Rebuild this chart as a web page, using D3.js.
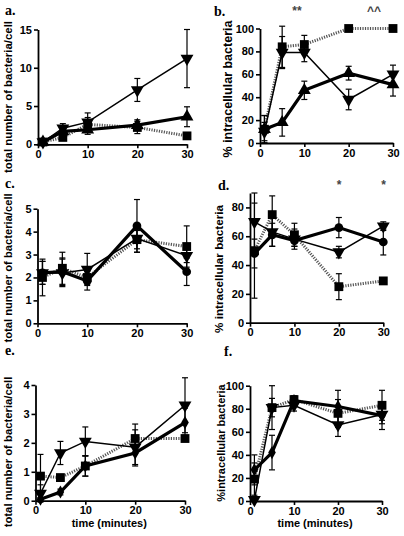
<!DOCTYPE html>
<html><head><meta charset="utf-8">
<script src="https://cdn.jsdelivr.net/npm/d3@7"></script>
<style>
body{margin:0;background:#fff;}
svg{display:block;font-family:"Liberation Sans",Arial,sans-serif;}
.tick text{font-weight:bold;font-size:11px;fill:#000;}
</style></head>
<body><svg id="c" width="404" height="536"></svg>
<script>
// ---- data ----
const time = [1, 5, 10, 20, 30];
const xTicks = [0, 10, 20, 30];

// panel a (total number of bacteria/cell)
const aDownTri = [0.3, 2.1, 2.9, 7.1, 11.2];
const aDownTriErr = [0.2, 0.6, 1.2, 1.5, 3.8];
const aUpTri = [0.3, 1.7, 1.9, 2.5, 3.6];
const aUpTriErr = [0.2, 0.5, 0.6, 0.7, 1.3];
const aSquare = [0.3, 0.9, 2.6, 2.2, 1.1];
const aSquareErr = [0.1, 0.2, 0.9, 0.8, 0.2];
const aTicks = [0, 5, 10, 15];

// panel b (% intracellular)
const bDownTri = [10, 79, 79, 38, 60];
const bDownTriErr = [8, 14, 8, 9, 8];
const bUpTri = [12, 18, 46, 61, 51];
const bUpTriErr = [12, 12, 8, 6, 10];
const bSquare = [12, 84, 86, 100, 100];
const bSquareErr = [12, 18, 8, 0, 0];
const bTicks = [0, 20, 40, 60, 80, 100];

// panel c
const cCircle = [2.2, 2.25, 1.85, 4.25, 2.25];
const cCircleErr = [0.5, 0.6, 0.4, 1.15, 0.6];
const cDownTri = [2.2, 2.2, 2.35, 3.7, 2.95];
const cDownTriErr = [0.5, 0.6, 0.7, 0.6, 0.3];
const cSquare = [2.0, 2.4, 2.0, 3.65, 3.35];
const cSquareErr = [0.8, 0.7, 0.3, 0.4, 0.9];
const cTicks = [0, 1, 2, 3, 4, 5];

// panel d
const dCircle = [48, 61, 57, 66, 56];
const dCircleErr = [10, 8, 4, 7, 9];
const dDownTri = [70, 63, 58, 49, 67];
const dDownTriErr = [20, 10, 7, 4, 3];
const dSquare = [50, 75, 61, 25, 29];
const dSquareErr = [33, 13, 8, 9, 2];
const dTicks = [0, 20, 40, 60, 80];

// panel e
const eDiamond = [0.05, 0.3, 1.2, 1.65, 2.7];
const eDiamondErr = [0.05, 0.1, 0.35, 0.45, 0.5];
const eDownTri = [0.25, 1.65, 2.05, 1.85, 3.3];
const eDownTriErr = [0.3, 0.4, 0.5, 0.6, 0.95];
const eSquare = [0.85, 0.8, 1.2, 2.15, 2.15];
const eSquareErr = [0.75, 0.1, 0.35, 0.5, 0.1];
const eTicks = [0, 1, 2, 3, 4];

// panel f
const fDiamond = [27, 42, 87, 82, 74];
const fDiamondErr = [13, 15, 4, 14, 12];
const fDownTri = [1, 81, 83, 66, 75];
const fDownTriErr = [1, 8, 5, 10, 8];
const fSquare = [19, 81, 88, 76, 83];
const fSquareErr = [14, 19, 3, 12, 13];
const fTicks = [0, 20, 40, 60, 80, 100];

const titleTotal = "total number of bacteria/cell";
const titlePct = "% intracellular bacteria";
const titlePct2 = "%intracellular bacteria";
const xTitle = "time (minutes)";

// ---- layout ----
const panels = [
  {label:"a.", lx:5, ly:15, x0:38, x1:187, y0:144.3, yT:29.5, ymax:15, ticks:aTicks,
   title:titleTotal, tx:12, ty:97, tfs:11.4,
   series:[{v:aSquare,e:aSquareErr,sym:"square",line:"dot"},{v:aUpTri,e:aUpTriErr,sym:"up",line:"thick"},{v:aDownTri,e:aDownTriErr,sym:"down",line:"thin"}], notes:[]},
  {label:"b.", lx:214, ly:16, x0:260, x1:393, y0:143, yT:28.5, ymax:100, ticks:bTicks,
   title:titlePct, tx:232, ty:89, tfs:12.5,
   series:[{v:bSquare,e:bSquareErr,sym:"square",line:"dot"},{v:bUpTri,e:bUpTriErr,sym:"up",line:"thick"},{v:bDownTri,e:bDownTriErr,sym:"down",line:"thin"}],
   notes:[{t:"**",x:297,y:15},{t:"^^",x:374,y:15}]},
  {label:"c.", lx:5, ly:188, x0:37.5, x1:186.7, y0:323.3, yT:208.7, ymax:5, ticks:cTicks,
   title:titleTotal, tx:12, ty:268, tfs:11.2,
   series:[{v:cSquare,e:cSquareErr,sym:"square",line:"dot"},{v:cCircle,e:cCircleErr,sym:"circle",line:"thick"},{v:cDownTri,e:cDownTriErr,sym:"down",line:"thin"}], notes:[]},
  {label:"d.", lx:218, ly:190, x0:250, x1:383.3, y0:322.7, yT:193, ymax:90, ticks:dTicks,
   title:titlePct, tx:223, ty:269, tfs:11.7,
   series:[{v:dSquare,e:dSquareErr,sym:"square",line:"dot"},{v:dCircle,e:dCircleErr,sym:"circle",line:"thick"},{v:dDownTri,e:dDownTriErr,sym:"down",line:"thin"}],
   notes:[{t:"*",x:339,y:189},{t:"*",x:383.5,y:189}]},
  {label:"e.", lx:5, ly:355, x0:35.5, x1:185, y0:500.7, yT:385, ymax:4, ticks:eTicks,
   title:titleTotal, tx:12, ty:452, tfs:11.3,
   series:[{v:eSquare,e:eSquareErr,sym:"square",line:"dot"},{v:eDiamond,e:eDiamondErr,sym:"diamond",line:"thick"},{v:eDownTri,e:eDownTriErr,sym:"down",line:"thin"}], notes:[], xt:true},
  {label:"f.", lx:224, ly:356, x0:250, x1:382, y0:501, yT:385.7, ymax:100, ticks:fTicks,
   title:titlePct2, tx:225, ty:443, tfs:11,
   series:[{v:fSquare,e:fSquareErr,sym:"square",line:"dot"},{v:fDiamond,e:fDiamondErr,sym:"diamond",line:"thick"},{v:fDownTri,e:fDownTriErr,sym:"down",line:"thin"}], notes:[], xt:true}
];

const svg = d3.select("#c");
const symType = {square:d3.symbolSquare, up:d3.symbolTriangle, down:d3.symbolTriangle, circle:d3.symbolCircle, diamond:d3.symbolDiamond};
const symSize = {square:78, up:72, down:72, circle:60, diamond:50};
const lineStyle = {
  thick:{w:3.2, c:"#000", d:null},
  thin:{w:1.5, c:"#000", d:null},
  dot:{w:3, c:"#555", d:"1.2,1.3"}
};
const fmt = d3.format("d");

panels.forEach(p => {
  const g = svg.append("g");
  const x = d3.scaleLinear().domain([0, 30]).range([p.x0, p.x1]);
  const y = d3.scaleLinear().domain([0, p.ymax]).range([p.y0, p.yT]);

  const xa = g.append("g").attr("transform", `translate(0,${p.y0})`)
    .call(d3.axisBottom(x).tickValues(xTicks).tickFormat(fmt).tickSize(4).tickPadding(2).tickSizeOuter(0));
  const ya = g.append("g").attr("transform", `translate(${p.x0},0)`)
    .call(d3.axisLeft(y).tickValues(p.ticks).tickFormat(fmt).tickSize(4).tickPadding(2).tickSizeOuter(0));
  [xa, ya].forEach(a => {
    a.select(".domain").attr("stroke", "#000").attr("stroke-width", 1.8);
    a.selectAll(".tick line").attr("stroke", "#000").attr("stroke-width", 1.6);
  });

  // panel label
  g.append("text").attr("x", p.lx).attr("y", p.ly).text(p.label)
    .attr("font-family", "'Liberation Serif','Times New Roman',serif")
    .attr("font-weight", "bold").attr("font-size", 14);

  // y title
  g.append("text").attr("transform", `translate(${p.tx},${p.ty}) rotate(-90)`)
    .attr("text-anchor", "middle").attr("font-weight", "bold")
    .attr("font-size", p.tfs).text(p.title);

  if (p.xt) {
    g.append("text").attr("x", (p.x0 + p.x1) / 2 - 1).attr("y", p.y0 + 26)
      .attr("text-anchor", "middle").attr("font-weight", "bold").attr("font-size", 11)
      .text(xTitle);
  }

  p.notes.forEach(n => {
    g.append("text").attr("x", n.x).attr("y", n.y).attr("text-anchor", "middle")
      .attr("font-size", 12).attr("font-weight", "bold").attr("fill", "#444").text(n.t);
  });

  // lines
  p.series.forEach(s => {
    const st = lineStyle[s.line];
    const pts = time.map((t, i) => [t, s.v[i]]);
    g.append("path").datum(pts)
      .attr("d", d3.line().x(d => x(d[0])).y(d => y(d[1])))
      .attr("fill", "none").attr("stroke", st.c).attr("stroke-width", st.w)
      .attr("stroke-dasharray", st.d);
  });
  // error bars
  p.series.forEach(s => {
    time.forEach((t, i) => {
      if (!s.e[i]) return;
      const cx = x(t), ylo = y(s.v[i] - s.e[i]), yhi = y(s.v[i] + s.e[i]);
      g.append("line").attr("x1", cx).attr("x2", cx).attr("y1", ylo).attr("y2", yhi)
        .attr("stroke", "#000").attr("stroke-width", 1.2);
      [ylo, yhi].forEach(yy => g.append("line").attr("x1", cx - 3).attr("x2", cx + 3)
        .attr("y1", yy).attr("y2", yy).attr("stroke", "#000").attr("stroke-width", 1.2));
    });
  });
  // markers
  p.series.forEach(s => {
    time.forEach((t, i) => {
      const rot = s.sym === "down" ? " rotate(180)" : "";
      g.append("path")
        .attr("d", d3.symbol().type(symType[s.sym]).size(symSize[s.sym])())
        .attr("transform", `translate(${x(t)},${y(s.v[i])})${rot}`)
        .attr("fill", "#000");
    });
  });
});
</script></body></html>
